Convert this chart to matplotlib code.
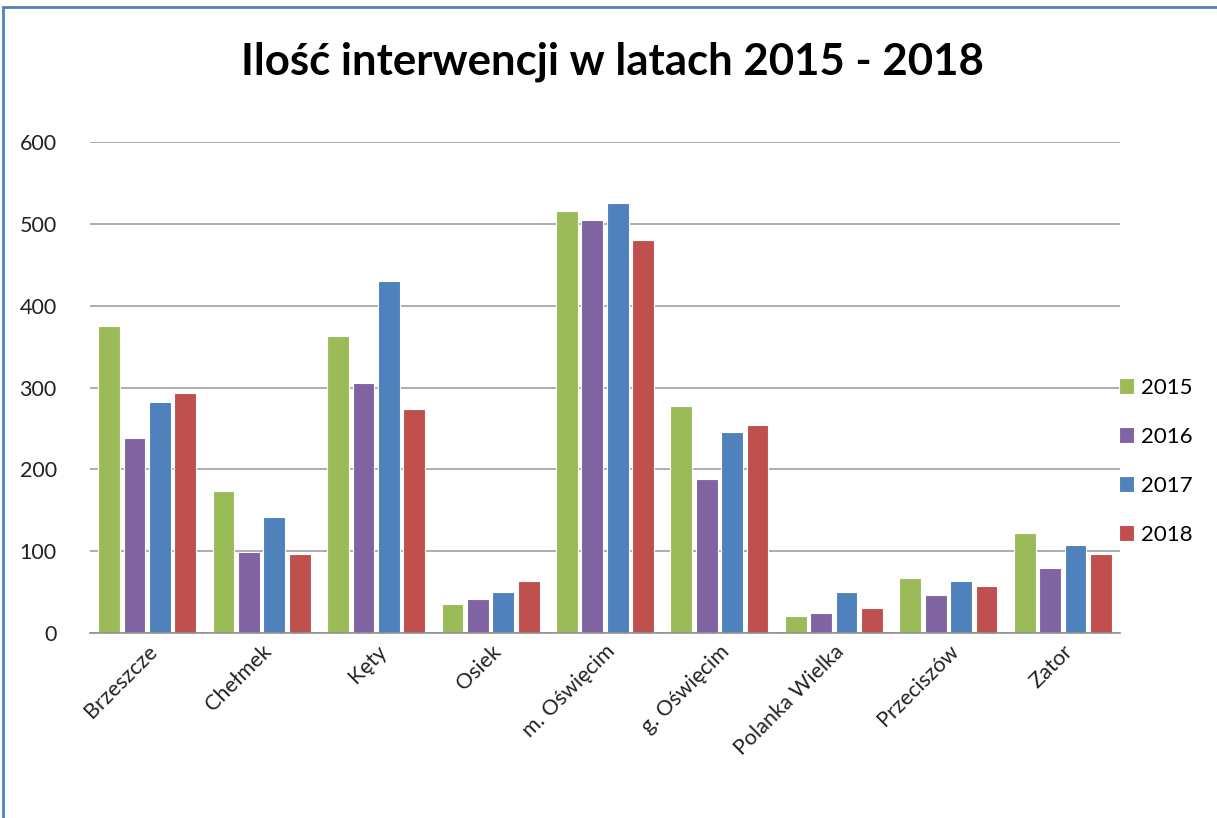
import matplotlib
matplotlib.use('Agg')
import matplotlib.pyplot as plt
import numpy as np
from matplotlib.patches import Rectangle

plt.rcParams['font.family'] = ['Lato', 'DejaVu Sans']

categories = ['Brzeszcze', 'Chełmek', 'Kęty', 'Osiek', 'm. Oświęcim', 'g. Oświęcim',
              'Polanka Wielka', 'Przeciszów', 'Zator']
years = ['2015', '2016', '2017', '2018']
v2015 = [375, 174, 363, 35, 516, 278, 21, 67, 122]
v2016 = [238, 99, 305, 42, 505, 188, 24, 46, 79]
v2017 = [282, 142, 430, 50, 526, 246, 50, 64, 107]
v2018 = [293, 97, 274, 63, 480, 254, 30, 57, 97]
colors = ['#9BBB59', '#8064A2', '#4F81BD', '#C0504D']

fig = plt.figure(figsize=(12.17, 8.18), dpi=100)
ax = fig.add_axes([90 / 1217, 1 - 633 / 818, 1030 / 1217, 491 / 818])

x = np.arange(len(categories))
slot = 0.222
series = [v2015, v2016, v2017, v2018]
for i, (vals, c, lab) in enumerate(zip(series, colors, years)):
    ax.bar(x + (i - 1.5) * slot, vals, width=0.19, color=c, edgecolor='white',
           linewidth=0.8, label=lab, zorder=3)

ax.set_xlim(-0.5, len(categories) - 0.5)
ax.set_ylim(0, 600)
ax.set_yticks(range(0, 601, 100))
ax.yaxis.grid(True, color='#A0A0A0', linewidth=1.2, zorder=0)
ax.set_axisbelow(True)
for s in ['left', 'right', 'top']:
    ax.spines[s].set_visible(False)
ax.spines['bottom'].set_color('#909090')
ax.spines['bottom'].set_linewidth(1.2)
ax.spines['bottom'].set_zorder(4)
ax.tick_params(axis='y', length=0, labelsize=15.5, pad=24, colors='#222222')
ax.tick_params(axis='x', length=0, labelsize=15.5, pad=6, colors='#222222')
ax.set_xticks(x)
ax.set_xticklabels(categories, rotation=45, ha='right', rotation_mode='anchor')

fig.text(0.503, 1 - 62 / 818, 'Ilość interwencji w latach 2015 - 2018', ha='center', va='center',
         fontsize=31.5, fontweight='bold')

fig.legend(loc='upper left', bbox_to_anchor=(1110 / 1217, 1 - 369 / 818), frameon=False,
           fontsize=16, handlelength=0.7, handleheight=0.7, handletextpad=0.3,
           labelspacing=1.3, borderaxespad=0)

# chart frame
fig.patches.append(Rectangle((3 / 1217, -0.05), 1.1, 1 - 7 / 818 + 0.05, transform=fig.transFigure,
                             fill=False, edgecolor='#4F81BD', linewidth=2))

fig.savefig('out.png', dpi=100)
